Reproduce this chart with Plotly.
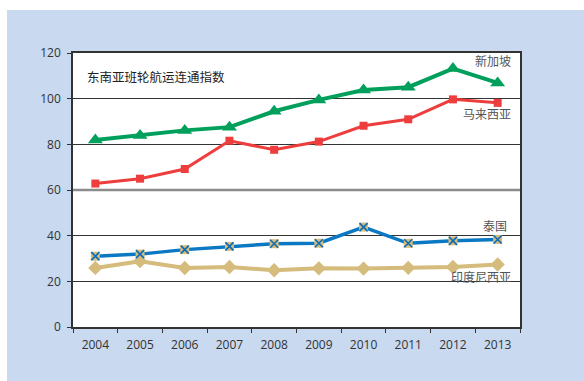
import plotly.graph_objects as go

years = ["2004", "2005", "2006", "2007", "2008", "2009", "2010", "2011", "2012", "2013"]
singapore = [81.87, 83.87, 86.11, 87.53, 94.47, 99.47, 103.76, 105.02, 113.16, 106.91]
malaysia = [62.83, 64.97, 69.20, 81.58, 77.60, 81.20, 88.14, 90.96, 99.69, 98.16]
thailand = [31.01, 31.92, 33.89, 35.31, 36.48, 36.70, 43.76, 36.66, 37.74, 38.31]
indonesia = [25.88, 28.84, 25.84, 26.27, 24.85, 25.68, 25.60, 25.91, 26.28, 27.37]

title_text = "东南亚班轮航运连通指数"
series_labels = ["新加坡", "马来西亚", "泰国", "印度尼西亚"]
y_ticks = [0, 20, 40, 60, 80, 100, 120]

GREEN = "#00a05c"
RED = "#ee3d3d"
BLUE = "#0a78c2"
TAN = "#d5bb7c"
PANEL = "#c8d9f0"

fig = go.Figure()

fig.add_trace(go.Scatter(
    x=years, y=indonesia, mode="lines+markers",
    line=dict(color=TAN, width=4),
    marker=dict(symbol="diamond", size=11, color=TAN),
    name=series_labels[3]))

fig.add_trace(go.Scatter(
    x=years, y=thailand, mode="lines+markers",
    line=dict(color=BLUE, width=3.5),
    marker=dict(symbol="square", size=9, color=TAN),
    name=series_labels[2]))
# Blue cross drawn over each tan square (open symbols stroke with marker.color)
fig.add_trace(go.Scatter(
    x=years, y=thailand, mode="markers",
    marker=dict(symbol="x-thin-open", size=8, color="#0a6cb8",
                line=dict(color="#0a6cb8", width=1.6)),
    hoverinfo="skip", name=series_labels[2]))

fig.add_trace(go.Scatter(
    x=years, y=malaysia, mode="lines+markers",
    line=dict(color=RED, width=3),
    marker=dict(symbol="square", size=8, color=RED),
    name=series_labels[1]))

fig.add_trace(go.Scatter(
    x=years, y=singapore, mode="lines+markers",
    line=dict(color=GREEN, width=4),
    marker=dict(symbol="triangle-up", size=13, color=GREEN),
    name=series_labels[0]))

# Line labels at the right end of each series
label_font = dict(family="Noto Sans CJK SC", size=12, color="#555555")
label_pos = [(0.985, 0.974), (0.985, 0.78), (0.975, 0.369), (0.985, 0.186)]
for text, (lx, ly) in zip(series_labels, label_pos):
    fig.add_annotation(text=text, xref="paper", yref="paper", x=lx, y=ly,
                       xanchor="right", yanchor="middle", showarrow=False,
                       font=label_font)

fig.add_annotation(text=title_text, xref="paper", yref="paper", x=0.026, y=0.916,
                   xanchor="left", yanchor="middle", showarrow=False,
                   font=dict(family="Noto Sans CJK SC", size=12.5, color="#222222"))

# White page strips around the coloured panel
fig.add_shape(type="rect", xref="paper", yref="paper", x0=-0.2, x1=1.2,
              y0=1.157, y1=1.3, fillcolor="white", line_width=0, layer="below")
fig.add_shape(type="rect", xref="paper", yref="paper", x0=-0.2, x1=-0.1477,
              y0=-0.3, y1=1.3, fillcolor="white", line_width=0, layer="below")

# Lighter gridline at 60
fig.add_shape(type="line", xref="paper", yref="y", x0=0, x1=1, y0=60, y1=60,
              line=dict(color="#8c8c8c", width=2.5), layer="above")

fig.update_layout(
    width=584, height=381,
    margin=dict(l=73, r=64, t=53, b=54),
    paper_bgcolor=PANEL, plot_bgcolor="white",
    showlegend=False,
    font=dict(family="Open Sans", size=12, color="#333333"),
    xaxis=dict(type="category", range=[-0.5, 9.5], showgrid=False,
               showline=True, linecolor="#333333", linewidth=1.5, mirror=True,
               ticks="outside", tickson="boundaries", ticklen=4,
               tickcolor="#333333", ticklabelstandoff=6,
               tickfont=dict(size=12, color="#333333")),
    yaxis=dict(range=[0, 120], tickvals=y_ticks, showgrid=True,
               gridcolor="#333333", gridwidth=1,
               showline=True, linecolor="#333333", linewidth=1.5, mirror=True,
               ticks="outside", ticklen=4, tickcolor="#333333",
               ticklabelstandoff=4,
               tickfont=dict(size=12, color="#333333"), zeroline=False),
)

fig.write_html("out.html")
